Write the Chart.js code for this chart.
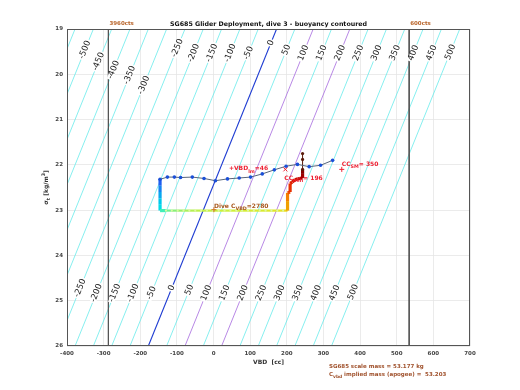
<!DOCTYPE html>
<html>
<head>
<meta charset="utf-8">
<script src="https://cdn.jsdelivr.net/npm/chart.js@4.4.1/dist/chart.umd.min.js"></script>
<style>
  html, body { margin: 0; padding: 0; background: #fff; }
  canvas { display: block; }
</style>
</head>
<body>
<canvas id="G1" width="520" height="390"></canvas>
<script>
// dive 3 points (VBD cc, sigma_t)
const diveVbd   = [-146, -126, -107, -90, -58, -26, 5, 38, 70, 101, 133, 166, 198, 229, 261, 292, 325];
const diveSigma = [22.32, 22.27, 22.27, 22.28, 22.27, 22.30, 22.35, 22.31, 22.29, 22.27, 22.20, 22.11, 22.03, 21.99, 22.04, 22.01, 21.90];

// coloured trace
const traceVbd   = [-146, -146, -146, -146, -146, -146,
                    -130, -114, -98, -82, -66, -50, -34, -18, -2, 14, 30, 46, 62, 78, 94, 110, 126, 142, 158, 174, 190, 202,
                    202, 202, 209, 209, 215, 222, 230, 236, 243, 243, 243, 243, 243];
const traceSigma = [22.32, 22.46, 22.60, 22.74, 22.88, 23.01,
                    23.01, 23.01, 23.01, 23.01, 23.01, 23.01, 23.01, 23.01, 23.01, 23.01, 23.01, 23.01, 23.01, 23.01, 23.01, 23.01, 23.01, 23.01, 23.01, 23.01, 23.01, 23.01,
                    22.80, 22.62, 22.60, 22.41, 22.38, 22.33, 22.31, 22.30, 22.29, 22.20, 22.10, 21.88, 21.75];
const traceColor = ['#1f5ff0', '#1484f0', '#08a8f0', '#00c8ec', '#00dce8', '#40eeb8',
                    '#70f090', '#88f078', '#98f068', '#a8f05c', '#b4f052', '#bcf04a', '#c2f046', '#c6f042', '#c8f040', '#ccf03c', '#ccf03c', '#d0ee38', '#d0ee38', '#d4ec34', '#d4ec34', '#d8ea30', '#d8ea30', '#dce82c', '#e0e628', '#e4e424', '#e8d818', '#f0a000',
                    '#f48000', '#ee5000', '#e83000', '#e02000', '#d81400', '#d00c00', '#c40400', '#b40000', '#a00000', '#880000', '#5a1a0a', '#5a1a0a', '#5a1a0a'];

// buoyancy contour levels [g], with the VBD where each one meets sigma 19 and sigma 26
const contourLevels    = [-550, -500, -450, -400, -350, -300, -250, -200, -150, -100, -50, 0, 50, 100, 150, 200, 250, 300, 350, 400, 450, 500];
const contourVbdTop    = [-378, -328, -278, -228, -178, -128, -78, -28, 22, 72, 122, 172, 222, 272, 322, 372, 422, 472, 522, 572, 622, 672];
const contourVbdBottom = [-728, -678, -628, -578, -528, -478, -428, -378, -328, -278, -228, -178, -128, -78, -28, 22, 72, 122, 172, 222, 272, 322];

// where the contour labels sit (level, sigma)
const labelLevel = [-500, -450, -400, -350, -300, -250, -200, -150, -100, -50, 0, 50, 100, 150, 200, 250, 300, 350, 400, 450, 500,
                    -250, -200, -150, -100, -50, 0, 50, 100, 150, 200, 250, 300, 350, 400, 450, 500];
const labelSigma = [19.46, 19.72, 19.90, 20.02, 20.24, 19.42, 19.53, 19.53, 19.53, 19.53, 19.31, 19.46, 19.53, 19.53, 19.53, 19.53, 19.53, 19.53, 19.53, 19.53, 19.51,
                    24.72, 24.83, 24.83, 24.83, 24.83, 24.72, 24.76, 24.83, 24.83, 24.83, 24.83, 24.83, 24.83, 24.83, 24.83, 24.81];

const ctsVbd = [-287, 534];
const ctsText = ['3960cts', '600cts'];

const FONT = '"DejaVu Sans"';
Chart.defaults.font.family = FONT;

function levelVbd(i, s) {
  return contourVbdTop[i] + (contourVbdBottom[i] - contourVbdTop[i]) * (s - 19) / 7;
}

function richText(ctx, parts, x, y, size, align) {
  let w = 0;
  for (const [t, k] of parts) {
    ctx.font = 'bold ' + (k === 'n' ? size : size * 0.8) + 'px ' + FONT;
    w += ctx.measureText(t).width;
  }
  let cx = align === 'center' ? x - w / 2 : x;
  ctx.textAlign = 'left';
  ctx.textBaseline = 'middle';
  for (const [t, k] of parts) {
    ctx.font = 'bold ' + (k === 'n' ? size : size * 0.8) + 'px ' + FONT;
    const dy = k === 'sub' ? size * 0.4 : k === 'sup' ? -size * 0.4 : 0;
    ctx.fillText(t, cx, y + dy);
    cx += ctx.measureText(t).width;
  }
}

function plus(ctx, x, y, r) {
  ctx.beginPath();
  ctx.moveTo(x - r, y); ctx.lineTo(x + r, y);
  ctx.moveTo(x, y - r); ctx.lineTo(x, y + r);
  ctx.stroke();
}

const annot = {
  id: 'annot',
  afterDatasetsDraw(chart) {
    const {ctx, chartArea: a, scales: {x, y}} = chart;
    ctx.save();
    ctx.beginPath();
    ctx.rect(a.left, a.top, a.right - a.left, a.bottom - a.top);
    ctx.clip();

    // contour labels along the lines
    ctx.font = '8.5px ' + FONT;
    ctx.textAlign = 'center';
    ctx.textBaseline = 'middle';
    labelLevel.forEach((lv, k) => {
      const i = contourLevels.indexOf(lv);
      const s = labelSigma[k];
      const px = x.getPixelForValue(levelVbd(i, s));
      const py = y.getPixelForValue(s);
      const dx = x.getPixelForValue(levelVbd(i, s - 1)) - px;
      const dy = y.getPixelForValue(s - 1) - py;
      const ang = Math.atan2(dy, dx);
      const t = String(lv);
      const w = ctx.measureText(t).width;
      ctx.save();
      ctx.translate(px, py);
      ctx.rotate(ang);
      ctx.fillStyle = '#fff';
      ctx.fillRect(-w / 2 - 1, -3, w + 2, 6);
      ctx.fillStyle = '#1a1a1a';
      ctx.fillText(t, 0, 0);
      ctx.restore();
    });

    // markers and notes
    ctx.lineWidth = 1;
    ctx.strokeStyle = '#ee2233';
    ctx.fillStyle = '#ee2233';
    const xm = x.getPixelForValue(196), ym = y.getPixelForValue(22.10);
    ctx.beginPath();
    ctx.moveTo(xm - 2, ym - 2); ctx.lineTo(xm + 2, ym + 2);
    ctx.moveTo(xm - 2, ym + 2); ctx.lineTo(xm + 2, ym - 2);
    ctx.stroke();
    plus(ctx, x.getPixelForValue(350), y.getPixelForValue(22.10), 2.5);
    richText(ctx, [['+VBD', 'n'], ['lm', 'sub'], ['=46', 'n']], x.getPixelForValue(42), y.getPixelForValue(22.09), 6);
    richText(ctx, [['CC', 'n'], ['min', 'sub'], ['= 196', 'n']], x.getPixelForValue(193), y.getPixelForValue(22.29), 6);
    richText(ctx, [['CC', 'n'], ['SM', 'sub'], ['= 350', 'n']], x.getPixelForValue(350), y.getPixelForValue(21.99), 6);

    ctx.strokeStyle = '#d07020';
    plus(ctx, x.getPixelForValue(1), y.getPixelForValue(22.99), 2.5);
    ctx.fillStyle = '#a8581c';
    richText(ctx, [['Dive C', 'n'], ['VBD', 'sub'], ['=2780', 'n']], x.getPixelForValue(1), y.getPixelForValue(22.91), 6);
    ctx.restore();

    // axes box
    ctx.save();
    ctx.strokeStyle = '#555';
    ctx.lineWidth = 1;
    ctx.strokeRect(a.left + 0.5, a.top + 0.5, a.right - a.left - 1, a.bottom - a.top - 1);

    // titles
    ctx.fillStyle = '#111';
    ctx.font = 'bold 6.3px ' + FONT;
    ctx.textAlign = 'center';
    ctx.textBaseline = 'middle';
    ctx.fillText('SG685 Glider Deployment, dive 3 - buoyancy contoured', (a.left + a.right) / 2, 24);

    ctx.fillStyle = '#b8642a';
    ctx.font = 'bold 5.5px ' + FONT;
    ctx.textAlign = 'left';
    ctsVbd.forEach((v, i) => ctx.fillText(ctsText[i], x.getPixelForValue(v) + 1, 24));

    ctx.fillStyle = '#333';
    richText(ctx, [['VBD  [cc]', 'n']], (a.left + a.right) / 2, 362, 6, 'center');

    ctx.save();
    ctx.translate(46, (a.top + a.bottom) / 2);
    ctx.rotate(-Math.PI / 2);
    richText(ctx, [['\u03c3', 'n'], ['t', 'sub'], [' [kg/m', 'n'], ['3', 'sup'], [']', 'n']], 0, 0, 6, 'center');
    ctx.restore();

    ctx.fillStyle = '#a0522d';
    richText(ctx, [['SG685 scale mass = 53.177 kg', 'n']], 329, 367, 5.5);
    richText(ctx, [['C', 'n'], ['vbd', 'sub'], [' implied mass (apogee) =  53.203', 'n']], 329, 375, 5.5);
    ctx.restore();
  }
};

const datasets = [];
datasets.push({
  data: diveVbd.map((v, i) => ({x: v, y: diveSigma[i]})),
  showLine: true, borderColor: '#56657a', borderWidth: 1,
  pointRadius: 1.8, pointBackgroundColor: '#1a4fd8', pointBorderWidth: 0,
  order: 1
});
datasets.push({
  data: traceVbd.map((v, i) => ({x: v, y: traceSigma[i]})),
  showLine: true, borderWidth: 3,
  segment: {
    borderColor: c => traceColor[c.p0DataIndex],
    borderWidth: c => (c.p0DataIndex >= 38 ? 1 : (c.p0DataIndex >= 6 && c.p0DataIndex < 27 ? 2.2 : 3.2))
  },
  pointRadius: traceVbd.map((v, i) => (i >= 38 ? 1.6 : (i >= 6 && i < 27 ? 1.1 : 0))),
  pointBackgroundColor: traceVbd.map((v, i) => (i >= 38 ? '#5a1a0a' : '#dcf8a0')),
  pointBorderWidth: 0,
  order: 2
});
ctsVbd.forEach(v => datasets.push({
  data: [{x: v, y: 19}, {x: v, y: 26}],
  showLine: true, borderColor: '#555', borderWidth: 1, pointRadius: 0, order: 5
}));
contourLevels.forEach((lv, i) => datasets.push({
  data: [{x: contourVbdTop[i], y: 19}, {x: contourVbdBottom[i], y: 26}],
  showLine: true,
  borderColor: lv === 0 ? '#1e3cd2' : (lv === 100 || lv === 200 ? '#a060dc' : '#5eeaea'),
  borderWidth: lv === 0 ? 1.1 : 0.75,
  pointRadius: 0, order: 10
}));

const tickFont = {size: 5.5, weight: 'bold', family: FONT};

new Chart(document.getElementById('G1'), {
  type: 'scatter',
  data: {datasets},
  options: {
    responsive: false,
    animation: false,
    devicePixelRatio: 1,
    layout: {padding: {top: 29, right: 50, left: 0, bottom: 0}},
    plugins: {legend: {display: false}, tooltip: {enabled: false}},
    elements: {line: {tension: 0}},
    scales: {
      x: {
        type: 'linear', min: -400, max: 700,
        ticks: {stepSize: 100, font: tickFont, color: '#444', maxRotation: 0, padding: 4},
        grid: {color: '#e6e6e6', lineWidth: 0.8, drawTicks: false},
        border: {display: false},
        afterFit: s => { s.height = 44; }
      },
      y: {
        type: 'linear', min: 19, max: 26, reverse: true,
        ticks: {stepSize: 1, font: tickFont, color: '#444', padding: 4},
        grid: {color: '#e6e6e6', lineWidth: 0.8, drawTicks: false},
        border: {display: false},
        afterFit: s => { s.width = 67; }
      }
    }
  },
  plugins: [annot]
});
</script>
</body>
</html>
